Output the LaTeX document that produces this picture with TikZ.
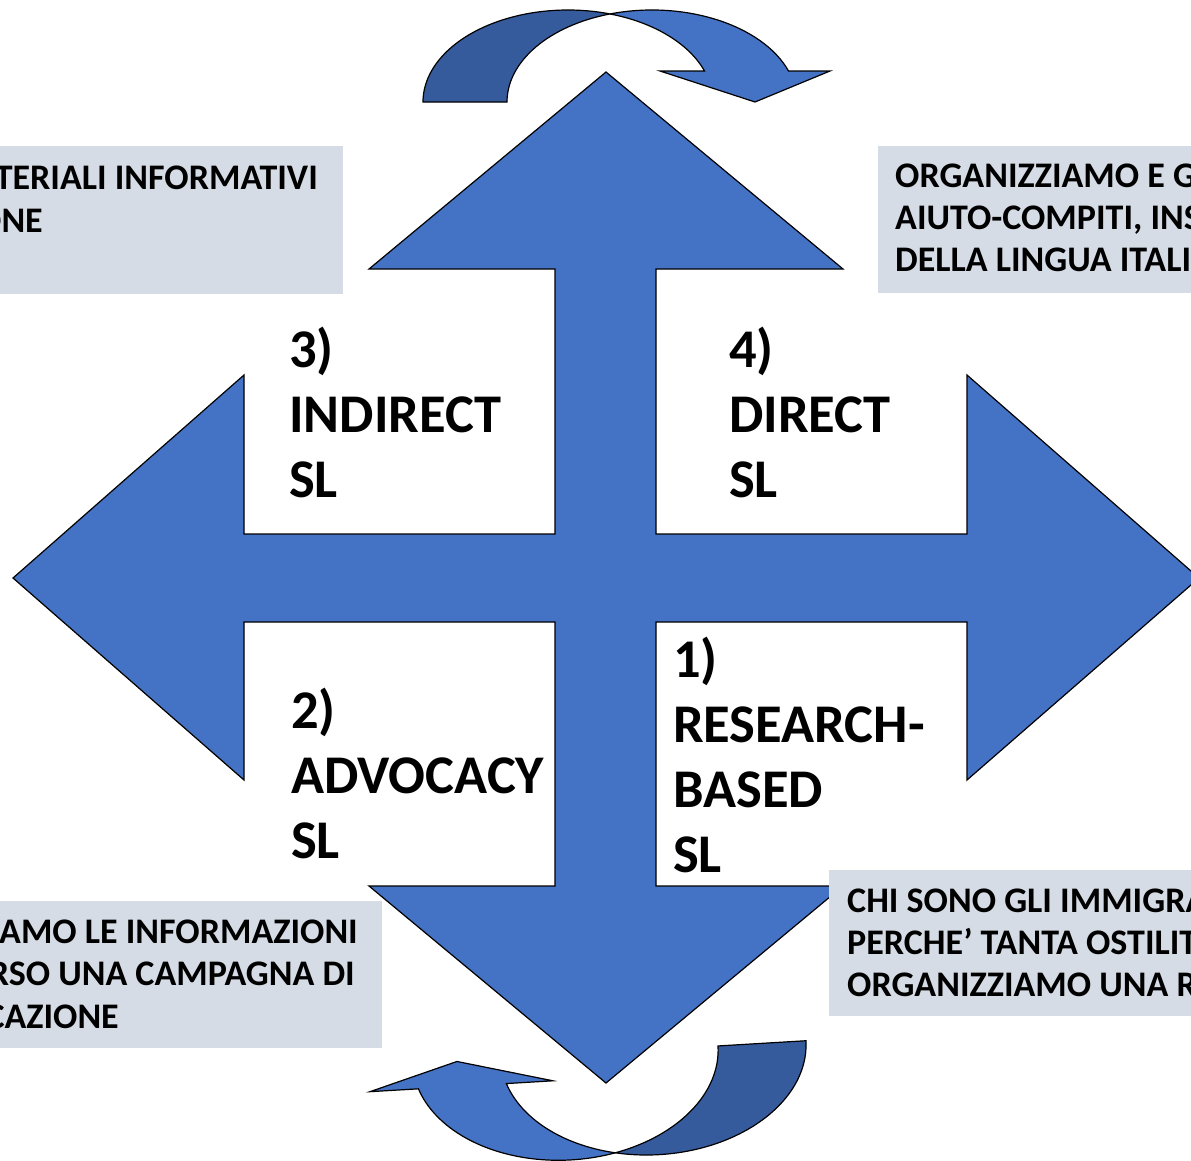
\documentclass[tikz,border=0pt]{standalone}
\usepackage{fontspec}
\setmainfont{Carlito}
\definecolor{arrowblue}{HTML}{4472C4}
\definecolor{arrowdark}{HTML}{365B9D}
\definecolor{boxgray}{HTML}{D6DCE5}
\begin{document}
\begin{tikzpicture}[x=1pt,y=-1pt,
  outlined/.style={draw=black, line width=1.2pt, line join=miter},
  quadarrow/.style={outlined, fill=arrowblue},
  lightband/.style={outlined, fill=arrowblue},
  darkband/.style={outlined, fill=arrowdark},
  graybox/.style={fill=boxgray},
  biglabel/.style={font=\fontsize{54.5}{65}\selectfont\bfseries, anchor=base west, inner sep=0pt, align=left},
  smallline/.style={font=\fontsize{36}{42}\selectfont\bfseries, inner sep=0pt}]
\useasboundingbox (0,0) rectangle (1191,1160);
\clip (0,0) rectangle (1191,1160);
% four-way arrow
\draw[quadarrow] (606,72) -- (843,269) -- (656,269) -- (656,534) -- (967,534) -- (967,375)
  -- (1199,578) -- (967,780) -- (967,622) -- (656,622) -- (656,886) -- (843,886)
  -- (606,1083) -- (369,886) -- (555,886) -- (555,622) -- (244,622) -- (244,780)
  -- (13,578) -- (244,375) -- (244,534) -- (555,534) -- (555,269) -- (369,269) -- cycle;
% top curved arrow
\draw[darkband] (423,102) arc[start angle=180, end angle=286.84, x radius=145, y radius=92]
  arc[start angle=253.16, end angle=180, x radius=145, y radius=92] -- cycle;
\draw[lightband] (610,13.95) arc[start angle=253.16, end angle=340.31, x radius=145, y radius=92]
  -- (830,71) -- (755,102) -- (660,71) -- (704.5,71)
  arc[start angle=340.31, end angle=286.84, x radius=145, y radius=92] -- cycle;
% bottom curved arrow
\begin{scope}[rotate around={3.4:(600,1080)}]
\draw[darkband] (807.9,1053) arc[start angle=0, end angle=106.73, x radius=153, y radius=105]
  arc[start angle=73.27, end angle=0, x radius=153, y radius=105] -- cycle;
\draw[lightband] (610.85,1153.6) arc[start angle=73.27, end angle=166.23, x radius=153, y radius=105]
  -- (369.7,1078) -- (458.3,1053) -- (553,1078) -- (506.3,1078)
  arc[start angle=166.23, end angle=106.73, x radius=153, y radius=105] -- cycle;
\end{scope}
% gray boxes
\fill[graybox] (-5,146) rectangle (343,294);
\fill[graybox] (878,146) rectangle (1200,293);
\fill[graybox] (-5,901) rectangle (382,1048);
\fill[graybox] (829,870) rectangle (1200,1016);
% box texts
\node[smallline, anchor=base east] (tl1) at (318,189) {TERIALI INFORMATIVI};
\node[smallline, anchor=base east] (tl2) at (43,232) {ONE};
\node[smallline, anchor=base west] (tr1) at (895,187) {ORGANIZZIAMO E G};
\node[smallline, anchor=base west] (tr2) at (895,229) {AIUTO-COMPITI, INS};
\node[smallline, anchor=base west] (tr3) at (895,271) {DELLA LINGUA ITALI};
\node[smallline, anchor=base east] (bl1) at (358,943) {AMO LE INFORMAZIONI};
\node[smallline, anchor=base east] (bl2) at (355,985) {RSO UNA CAMPAGNA DI};
\node[smallline, anchor=base east] (bl3) at (119,1028) {CAZIONE};
\node[smallline, anchor=base west] (br1) at (847,912) {CHI SONO GLI IMMIGRA};
\node[smallline, anchor=base west] (br2) at (847,954) {PERCHE’ TANTA OSTILIT};
\node[smallline, anchor=base west] (br3) at (847,996) {ORGANIZZIAMO UNA R};
% quadrant labels (anchored at the baseline of the last line)
\node[biglabel] (indirect) at (289,497) {3)\\INDIRECT\\SL};
\node[biglabel] (direct) at (729,497) {4)\\DIRECT\\SL};
\node[biglabel] (advocacy) at (291,858) {2)\\ADVOCACY\\SL};
\node[biglabel] (research) at (673,872) {1)\\RESEARCH-\\BASED\\SL};
\end{tikzpicture}
\end{document}
